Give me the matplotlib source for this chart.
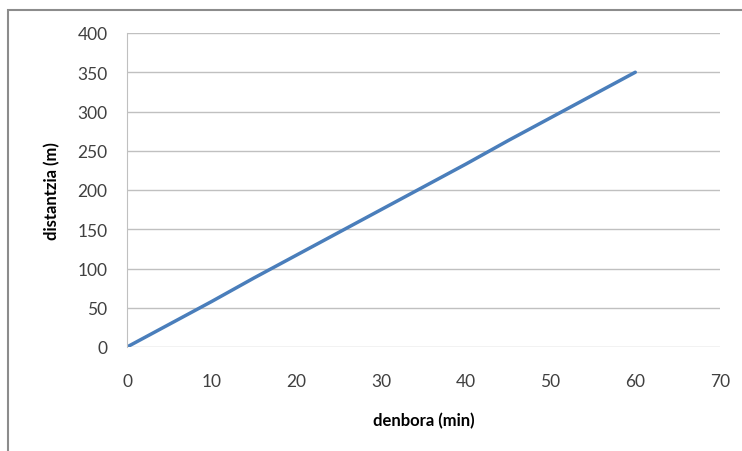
import matplotlib
matplotlib.use('Agg')
import matplotlib.pyplot as plt
from matplotlib.patches import Rectangle

# Data
denbora = [0, 5, 10, 15, 20, 25, 30, 35, 40, 45, 50, 55, 60]
distantzia = [0, 29, 58, 88, 117, 146, 175, 204, 233, 263, 292, 321, 350]

x_ticks = [0, 10, 20, 30, 40, 50, 60, 70]
y_ticks = [0, 50, 100, 150, 200, 250, 300, 350, 400]

plt.rcParams['font.family'] = ['Lato', 'DejaVu Sans']

fig = plt.figure(figsize=(7.42, 4.52), dpi=100)
fig.patch.set_facecolor('white')

# outer chart frame (Excel style), runs off the right and bottom edges
fig.patches.append(Rectangle((8 / 742, -0.05), 1.1, 1 - 11 / 452 + 0.05,
                             transform=fig.transFigure, fill=False,
                             edgecolor='#8c8c8c', linewidth=1.5))

ax = fig.add_axes([127 / 742, 1 - 348 / 452, (720 - 127) / 742, (348 - 34) / 452])
ax.plot(denbora, distantzia, color='#4a7ebb', linewidth=2.5, solid_capstyle='round')

ax.set_xlim(0, 70)
ax.set_ylim(0, 400)
ax.set_xticks(x_ticks)
ax.set_yticks(y_ticks)
ax.tick_params(length=0, labelsize=12.5, colors='#404040')
ax.tick_params(axis='x', pad=19)
ax.tick_params(axis='y', pad=14)

ax.yaxis.grid(True, color='#c0c0c0', linewidth=1)
ax.set_axisbelow(True)
for side in ['top', 'right', 'bottom']:
    ax.spines[side].set_visible(False)
ax.spines['left'].set_color('#c0c0c0')

ax.set_xlabel('denbora (min)', fontsize=12, fontweight='bold', labelpad=16)
ax.set_ylabel('distantzia (m)', fontsize=12, fontweight='bold', labelpad=12)

fig.savefig('out.png', dpi=100)
